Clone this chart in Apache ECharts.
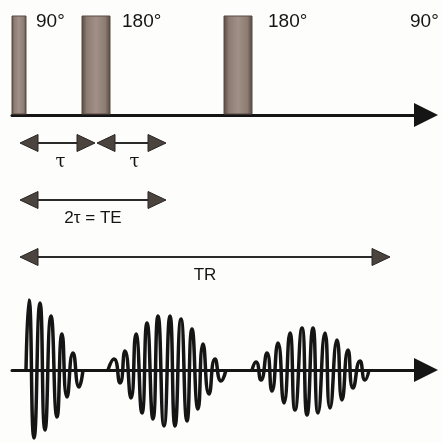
<!DOCTYPE html>
<html>
<head>
<meta charset="utf-8">
<script src="https://cdn.jsdelivr.net/npm/echarts@6/dist/echarts.min.js"></script>
<style>
html,body{margin:0;padding:0;background:#fdfdfc;}
#c{width:442px;height:443px;}
</style>
</head>
<body>
<div id="c"></div>
<script>
// time axis (arbitrary units)
const tMax = 414;

// RF pulses
const pulseStart = [0, 70, 212];
const pulseEnd   = [14, 98, 240];
const pulseLabels = ['90°', '180°', '180°', '90°'];
const pulseLabelT = [24, 110, 256, 398];

// timing arrows: [start, end, row]
const intervalStart = [8, 85, 8, 8];
const intervalEnd   = [83, 154, 154, 378];
const intervalRow   = [0, 0, 1, 2];
const intervalLabels = ['τ', 'τ', '2τ = TE', 'TR'];

// signal: [t, amplitude]
const fidSignal = [
  [14, 0], [17, 70], [22, -68], [28, 67], [33, -60], [39, 54], [45, -47],
  [50, 36], [55, -27], [61, 17], [67, -17], [71, 0]
];
const echo1Signal = [
  [96, 0], [102, 11], [108, -13], [113, 19], [119, -28], [124, 36], [130, -43],
  [135, 47], [141, -49], [146, 54], [152, -56], [158, 54], [163, -56],
  [169, 51], [175, -51], [180, 41], [186, -39], [191, 26], [197, -24],
  [203, 11], [209, -11], [214, 0]
];
const echo2Signal = [
  [240, 0], [244, 8], [249, -10], [255, 17], [260, -21], [266, 27], [272, -33],
  [278, 37], [283, -40], [290, 42], [295, -45], [301, 42], [306, -43],
  [313, 37], [318, -38], [325, 30], [330, -30], [336, 20], [341, -18],
  [348, 9], [353, -10], [357, 0]
];

const FONT = '"Liberation Sans", Arial, sans-serif';
const INK = '#151515';

function hiddenX(idx, showLine) {
  return {
    type: 'value', gridIndex: idx, min: 0, max: tMax,
    axisLine: showLine ? {
      show: true, onZero: true,
      symbol: ['none', 'triangle'], symbolSize: [24, 24],
      lineStyle: { color: INK, width: 3 }
    } : { show: false },
    axisTick: { show: false }, axisLabel: { show: false }, splitLine: { show: false }
  };
}
function hiddenY(idx, min, max, inverse) {
  return {
    type: 'value', gridIndex: idx, min: min, max: max, inverse: !!inverse,
    axisLine: { show: false }, axisTick: { show: false },
    axisLabel: { show: false }, splitLine: { show: false }
  };
}

const barFill = new echarts.graphic.LinearGradient(0, 0, 1, 0, [
  { offset: 0, color: '#54463f' },
  { offset: 0.18, color: '#8c7c72' },
  { offset: 0.5, color: '#a09087' },
  { offset: 0.82, color: '#8c7c72' },
  { offset: 1, color: '#54463f' }
]);

const pulseData = pulseStart.map((s, i) => [s, pulseEnd[i]]);
const labelData = pulseLabelT.map((t, i) => [t, 0.94, pulseLabels[i]]);
const arrowData = intervalStart.map((s, i) => [s, intervalEnd[i], intervalRow[i], intervalLabels[i]]);

const HEAD_L = 18, HEAD_H = 17;

const option = {
  animation: false,
  backgroundColor: '#fdfdfc',
  grid: [
    { left: 12, right: 16, top: 16, height: 99 },
    { left: 12, right: 16, top: 143, height: 114 },
    { left: 12, right: 16, top: 300, height: 140 }
  ],
  xAxis: [hiddenX(0, true), hiddenX(1, false), hiddenX(2, true)],
  yAxis: [hiddenY(0, 0, 1), hiddenY(1, 0, 2, true), hiddenY(2, -70, 70)],
  series: [
    {
      type: 'custom', xAxisIndex: 0, yAxisIndex: 0, data: pulseData, z: 1,
      renderItem: function (params, api) {
        const p1 = api.coord([api.value(0), 1]);
        const p2 = api.coord([api.value(1), 0]);
        return {
          type: 'rect',
          shape: { x: p1[0], y: p1[1], width: p2[0] - p1[0], height: p2[1] - p1[1] - 1 },
          style: { fill: barFill, stroke: '#5a4b43', lineWidth: 1 }
        };
      }
    },
    {
      type: 'custom', xAxisIndex: 0, yAxisIndex: 0, data: labelData, z: 3,
      renderItem: function (params, api) {
        const p = api.coord([api.value(0), api.value(1)]);
        return {
          type: 'text',
          style: {
            x: p[0], y: p[1], text: labelData[params.dataIndex][2],
            fill: INK, font: '19px ' + FONT, align: 'left', verticalAlign: 'middle'
          }
        };
      }
    },
    {
      type: 'custom', xAxisIndex: 1, yAxisIndex: 1, data: arrowData, z: 3,
      renderItem: function (params, api) {
        const a = api.coord([api.value(0), api.value(2)]);
        const b = api.coord([api.value(1), api.value(2)]);
        const y = a[1];
        const headFill = '#4a433e';
        const txt = arrowData[params.dataIndex][3];
        const isTau = txt === 'τ';
        return {
          type: 'group',
          children: [
            { type: 'line', shape: { x1: a[0] + HEAD_L - 2, y1: y, x2: b[0] - HEAD_L + 2, y2: y },
              style: { stroke: '#2a2a2a', lineWidth: 2 } },
            { type: 'polygon', shape: { points: [[a[0], y], [a[0] + HEAD_L, y - HEAD_H / 2], [a[0] + HEAD_L, y + HEAD_H / 2]] },
              style: { fill: headFill, stroke: '#2a2522', lineWidth: 1 } },
            { type: 'polygon', shape: { points: [[b[0], y], [b[0] - HEAD_L, y - HEAD_H / 2], [b[0] - HEAD_L, y + HEAD_H / 2]] },
              style: { fill: headFill, stroke: '#2a2522', lineWidth: 1 } },
            { type: 'text', style: {
                x: (a[0] + b[0]) / 2 + (isTau ? 3 : 0), y: y + (isTau ? 19 : 18), text: txt,
                fill: INK, font: (isTau ? '18px "DejaVu Serif", serif' : '17px ' + FONT),
                align: 'center', verticalAlign: 'middle' } }
          ]
        };
      }
    },
    {
      type: 'line', xAxisIndex: 2, yAxisIndex: 2, data: fidSignal, smooth: 0.6,
      showSymbol: false, lineStyle: { color: INK, width: 3.5 }, z: 2
    },
    {
      type: 'line', xAxisIndex: 2, yAxisIndex: 2, data: echo1Signal, smooth: 0.6,
      showSymbol: false, lineStyle: { color: INK, width: 3.5 }, z: 2
    },
    {
      type: 'line', xAxisIndex: 2, yAxisIndex: 2, data: echo2Signal, smooth: 0.6,
      showSymbol: false, lineStyle: { color: INK, width: 3.5 }, z: 2
    }
  ]
};

const chart = echarts.init(document.getElementById('c'), null, { renderer: 'canvas' });
chart.setOption(option);
</script>
</body>
</html>
